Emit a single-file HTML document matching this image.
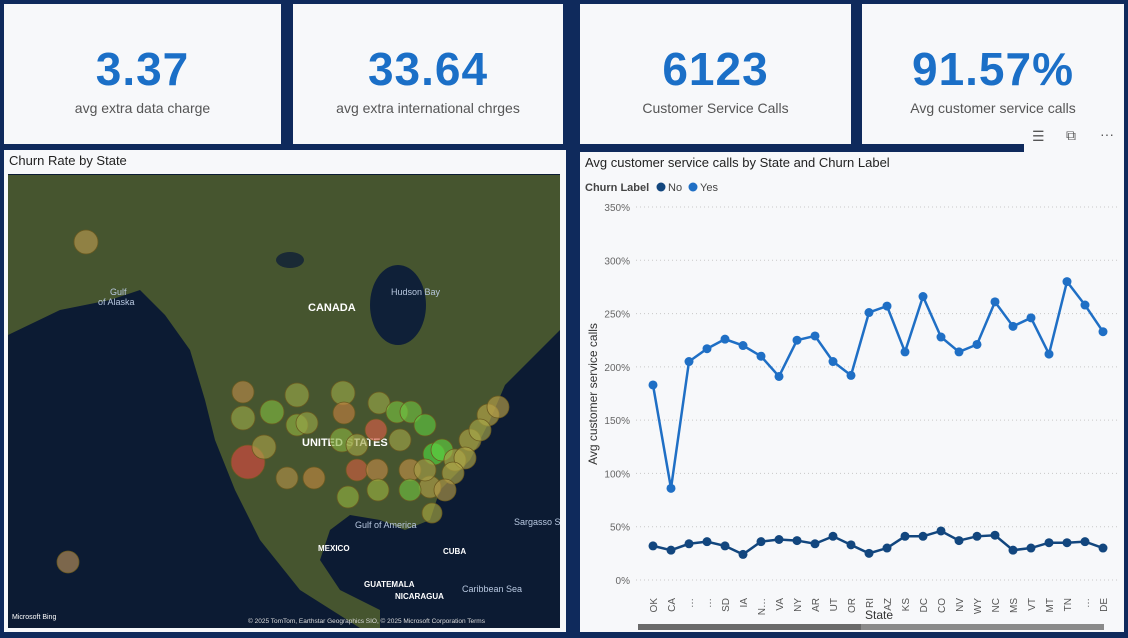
<!DOCTYPE html>
<html><head><meta charset="utf-8">
<style>
body{margin:0;width:1128px;height:638px;background:#0f2a5c;position:relative;overflow:hidden;font-family:"Liberation Sans",sans-serif}
.card{position:absolute;background:#f7f8fa;top:4px;height:140px;text-align:center}
.card .v{font-size:46px;color:#1b6fc7;font-weight:bold;margin-top:40px;line-height:50px;letter-spacing:1px}
.card .l{font-size:14px;color:#555;margin-top:6px}
.panel{position:absolute;background:#f7f8fa}
.ttl{position:absolute;left:5px;top:3px;font-size:13px;color:#222}
</style></head><body>
<div class="card" style="left:4px;width:277px"><div class="v">3.37</div><div class="l">avg extra data charge</div></div>
<div class="card" style="left:293px;width:270px"><div class="v">33.64</div><div class="l">avg extra international chrges</div></div>
<div class="card" style="left:580px;width:271px"><div class="v">6123</div><div class="l">Customer Service Calls</div></div>
<div class="card" style="left:862px;width:262px"><div class="v">91.57%</div><div class="l">Avg customer service calls</div></div>

<div style="position:absolute;left:1024px;top:124px;width:100px;height:28px;background:#f7f8fa">
<span style="position:absolute;left:8px;top:4px;font-size:14px;color:#555">☰</span>
<span style="position:absolute;left:42px;top:3px;font-size:14px;color:#555">⧉</span>
<span style="position:absolute;left:76px;top:2px;font-size:14px;color:#555">···</span></div>

<div class="panel" style="left:4px;top:150px;width:562px;height:482px">
<div class="ttl">Churn Rate by State</div>
<svg style="position:absolute;left:4px;top:24px" width="552" height="454" viewBox="8 174 552 454">
<rect x="8" y="174" width="552" height="454" fill="#0c1b33"/>
<polygon fill="#46552f" points="8,175 560,175 560,330 530,360 505,385 490,420 470,460 440,490 430,520 405,530 380,520 350,515 330,530 320,560 340,590 380,610 410,628 360,628 300,590 260,540 235,490 215,440 205,400 190,350 165,315 140,290 110,300 60,310 8,335"/>
<ellipse cx="398" cy="305" rx="28" ry="40" fill="#0f2038"/>
<ellipse cx="290" cy="260" rx="14" ry="8" fill="#1a2a35"/>
<rect x="380" y="580" width="180" height="48" fill="#0c1b33"/>
<g font-size="11" fill="#fff" font-weight="bold"><text x="308" y="311">CANADA</text><text x="302" y="446">UNITED STATES</text><text x="318" y="551" font-size="8">MEXICO</text><text x="443" y="554" font-size="8">CUBA</text><text x="364" y="587" font-size="8">GUATEMALA</text><text x="395" y="599" font-size="8">NICARAGUA</text></g>
<g font-size="9" fill="#b8c8e0"><text x="391" y="295">Hudson Bay</text><text x="110" y="295">Gulf</text><text x="98" y="305">of Alaska</text><text x="355" y="528">Gulf of America</text><text x="514" y="525">Sargasso Sea</text><text x="462" y="592">Caribbean Sea</text></g>
<text x="12" y="619" font-size="7" fill="#fff">Microsoft Bing</text>
<text x="248" y="623" font-size="6.5" fill="#ddd">© 2025 TomTom, Earthstar Geographics SIO, © 2025 Microsoft Corporation Terms</text>
<g id="bubbles" stroke-width="0.8"></g>
</svg></div>

<div class="panel" style="left:580px;top:152px;width:544px;height:480px">
<div class="ttl">Avg customer service calls by State and Churn Label</div></div>
<svg id="chart" style="position:absolute;left:0;top:0" width="1128" height="638"></svg>

<script>
const bubbles=[[86,242,12,"#b89a50"],[68,562,11,"#b8905a"],[248,462,17,"#d84a40"],[243,392,11,"#b88a4a"],[243,418,12,"#98a848"],[272,412,12,"#80b840"],[297,395,12,"#98a848"],[297,425,11,"#90b040"],[264,447,12,"#a8a048"],[287,478,11,"#b09048"],[314,478,11,"#c08840"],[307,423,11,"#98a848"],[343,393,12,"#98a848"],[344,413,11,"#c08040"],[342,440,12,"#88b040"],[357,470,11,"#d06040"],[357,445,11,"#a0a448"],[379,403,11,"#98a848"],[376,430,11,"#d86048"],[377,470,11,"#c08a48"],[397,412,11,"#78c040"],[411,412,11,"#70c040"],[425,425,11,"#60c840"],[400,440,11,"#a0a448"],[410,470,11,"#c09048"],[378,490,11,"#98b040"],[348,497,11,"#90b040"],[434,454,11,"#50d840"],[442,450,11,"#60d040"],[430,487,11,"#b0a048"],[432,513,10,"#a8a840"],[410,490,11,"#70c040"],[425,470,11,"#a8a048"],[455,460,11,"#a8a848"],[470,440,11,"#b0a848"],[488,415,11,"#b8a848"],[498,407,11,"#b8a048"],[480,430,11,"#a8a848"],[465,458,11,"#b0a848"],[453,473,11,"#b0a848"],[445,490,11,"#b09848"]];
const g=document.getElementById('bubbles');
for(const b of bubbles){const c=document.createElementNS('http://www.w3.org/2000/svg','circle');


c.setAttribute('cx',b[0]);c.setAttribute('cy',b[1]);c.setAttribute('r',b[2]);c.setAttribute('fill',b[3]);c.setAttribute('fill-opacity','0.65');c.setAttribute('stroke','#6a5a20');g.appendChild(c);}

const states=["OK","CA","…","…","SD","IA","N…","VA","NY","AR","UT","OR","RI","AZ","KS","DC","CO","NV","WY","NC","MS","VT","MT","TN","…","DE"];
const yesVals=[183,86,205,217,226,220,210,191,225,229,205,192,251,257,214,266,228,214,221,261,238,246,212,280,258,233];
const noVals=[32,28,34,36,32,24,36,38,37,34,41,33,25,30,41,41,46,37,41,42,28,30,35,35,36,30];
const yTicks=[0,50,100,150,200,250,300,350];
const NS='http://www.w3.org/2000/svg';
const svg=document.getElementById('chart');
const x0=653,x1=1103,y0=580,y350=207;
const X=i=>x0+(x1-x0)*i/(states.length-1);
const Y=v=>y0-(y0-y350)*v/350;
function el(t,a,txt){const e=document.createElementNS(NS,t);for(const k in a)e.setAttribute(k,a[k]);if(txt!=null)e.textContent=txt;svg.appendChild(e);return e;}
for(const t of yTicks){
 const l=el('line',{x1:636,x2:1118,y1:Y(t),y2:Y(t),stroke:'#c8c8c8','stroke-dasharray':'1 3'});
 
 
 const tx=el('text',{x:630,y:Y(t)+4,'text-anchor':'end','font-size':10,fill:'#666'},t+'%');
 
 
}
states.forEach((s,i)=>{const t=el('text',{transform:`translate(${X(i)+4},598) rotate(-90)`,'text-anchor':'end','font-size':10,fill:'#555'},s);
 
 });
function series(vals,col,name){
 const p=el('polyline',{points:vals.map((v,i)=>X(i)+','+Y(v)).join(' '),fill:'none',stroke:col,'stroke-width':2.5});
 
 
 vals.forEach((v,i)=>{const c=el('circle',{cx:X(i),cy:Y(v),r:4.5,fill:col});
 
 });
}
series(yesVals,'#1f6fc5','yes');
series(noVals,'#12467e','no');
const yt=el('text',{transform:'translate(597,394) rotate(-90)','text-anchor':'middle','font-size':12,fill:'#333'},'Avg customer service calls');


const xt=el('text',{x:879,y:619,'text-anchor':'middle','font-size':12,fill:'#333'},'State');


const lg=el('text',{x:585,y:191,'font-size':11,fill:'#444','font-weight':'bold'},'Churn Label');


const c1=el('circle',{cx:661,cy:187,r:4.5,fill:'#12467e'});


const t1=el('text',{x:668,y:191,'font-size':11,fill:'#444'},'No');


const c2=el('circle',{cx:693,cy:187,r:4.5,fill:'#1f6fc5'});


const t2=el('text',{x:700,y:191,'font-size':11,fill:'#444'},'Yes');


const sb=el('rect',{x:638,y:624,width:466,height:6,fill:'#8a8a8a'});


const th=el('rect',{x:638,y:624,width:223,height:6,fill:'#6a6a6a'});


</script>
</body></html>
